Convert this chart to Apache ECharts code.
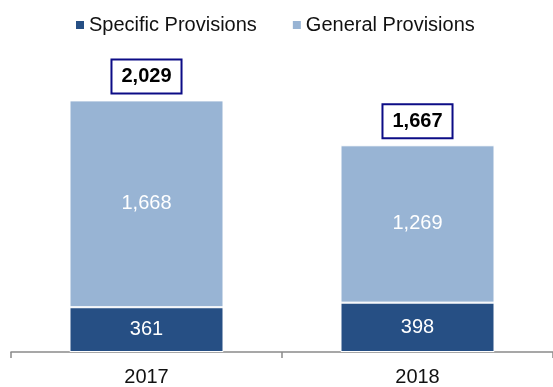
<!DOCTYPE html>
<html>
<head>
<meta charset="utf-8">
<style>
  html, body { margin: 0; padding: 0; background: #fff; }
  #chart { width: 553px; height: 387px; }
</style>
<script src="https://cdn.jsdelivr.net/npm/echarts@6/dist/echarts.min.js"></script>
</head>
<body>
<div id="chart"></div>
<script>
// Provisions by year
const years = ['2017', '2018'];
const specificProvisions = [361, 398];
const generalProvisions = [1668, 1269];
const seriesNames = ['Specific Provisions', 'General Provisions'];

// Stack totals shown above each bar
const totals = years.map((_, i) => specificProvisions[i] + generalProvisions[i]);

const FONT = '"Liberation Sans", Arial, sans-serif';
const fmt = v => Number(v).toLocaleString('en-US');

const chart = echarts.init(document.getElementById('chart'), null, { renderer: 'canvas' });

chart.setOption({
  animation: false,
  backgroundColor: '#ffffff',
  textStyle: { fontFamily: FONT },
  legend: {
    data: seriesNames,
    top: 10,
    left: 69,
    itemWidth: 10,
    itemHeight: 10,
    itemGap: 34,
    icon: 'rect',
    textStyle: { fontSize: 20, color: '#111', fontFamily: FONT, padding: [0, 0, 0, -1] }
  },
  grid: { left: 11, right: -2, top: 42, bottom: 35, containLabel: false },
  xAxis: {
    type: 'category',
    data: years,
    axisLine: { lineStyle: { color: '#8a8a8a', width: 1.5 } },
    axisTick: { show: true, length: 6, lineStyle: { color: '#8a8a8a', width: 1.5 } },
    axisLabel: { fontSize: 20, color: '#111', margin: 15, fontFamily: FONT }
  },
  yAxis: {
    type: 'value',
    min: 0,
    max: 2500,
    show: false,
    splitLine: { show: false }
  },
  series: [
    {
      name: seriesNames[0],
      type: 'bar',
      stack: 'total',
      barWidth: 154,
      data: specificProvisions,
      itemStyle: { color: '#264f84', borderColor: '#ffffff', borderWidth: 1 },
      label: {
        show: true, position: 'inside', color: '#ffffff', fontSize: 20, fontFamily: FONT,
        formatter: p => fmt(p.value)
      }
    },
    {
      name: seriesNames[1],
      type: 'bar',
      stack: 'total',
      barWidth: 154,
      data: generalProvisions,
      itemStyle: { color: '#98b4d4', borderColor: '#ffffff', borderWidth: 1 },
      label: {
        show: true, position: 'inside', color: '#ffffff', fontSize: 20, fontFamily: FONT,
        formatter: p => fmt(p.value)
      }
    },
    {
      name: 'Total',
      type: 'scatter',
      data: totals,
      symbolSize: 0,
      silent: true,
      itemStyle: { opacity: 1, color: 'rgba(0,0,0,0)' },
      label: {
        show: true,
        position: 'top',
        distance: 8,
        formatter: p => fmt(p.value),
        fontSize: 20,
        fontWeight: 'bold',
        color: '#000000',
        opacity: 1,
        fontFamily: FONT,
        lineHeight: 21,
        backgroundColor: '#ffffff',
        borderColor: '#0c0c86',
        borderWidth: 2,
        padding: [6, 9, 5, 9]
      }
    }
  ]
});
</script>
</body>
</html>
